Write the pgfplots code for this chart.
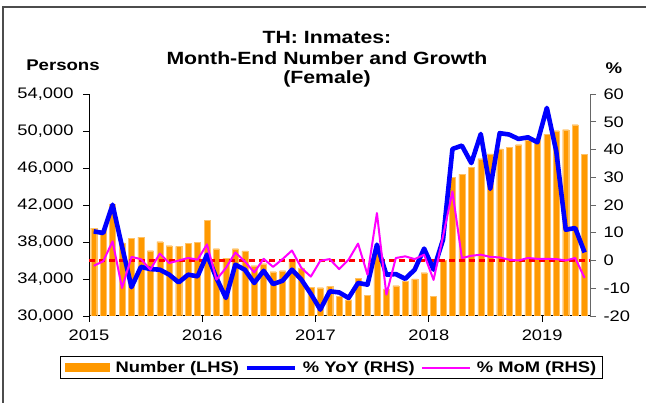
\documentclass[border=0pt]{standalone}
\usepackage{fontspec}
\setmainfont[FakeStretch=1.2]{Liberation Sans}
\usepackage{pgfplots}
\usepackage{pgfplotstable}
\pgfplotsset{compat=1.18}
\definecolor{barorange}{HTML}{FF9900}
\definecolor{yoyblue}{HTML}{0000FF}
\definecolor{mommag}{HTML}{FF00FF}

% month index (0 = Jan 2015), persons, % YoY, % MoM
\pgfplotstableread{
m num yoy mom
0 39500 10.5 -1.9
1 39250 9.9 -0.3
2 42050 20.1 6.9
3 37900 5.0 -9.9
4 38430 -9.6 1.3
5 38540 -2.3 0.5
6 37060 -3.1 -3.3
7 38030 -3.3 2.5
8 37600 -5.1 -0.9
9 37520 -7.9 0.0
10 37890 -5.1 0.9
11 37960 -5.7 0.3
12 40330 2.1 5.8
13 37280 -6.3 -6.9
14 36270 -13.5 -2.7
15 37280 -1.5 2.9
16 37030 -3.3 -0.3
17 35440 -8.1 -4.3
18 35650 -3.7 0.6
19 34790 -8.5 -2.3
20 34900 -7.3 0.5
21 36160 -3.3 3.6
22 35190 -6.9 -2.7
23 33130 -12.0 -5.8
24 33060 -17.7 -0.1
25 33200 -11.1 0.5
26 32120 -11.5 -3.1
27 31760 -13.5 0.3
28 34070 -8.1 6.1
29 32270 -8.7 -5.1
30 36880 5.7 17.1
31 32920 -5.1 -12.3
32 33280 -4.9 0.9
33 33740 -6.6 1.5
34 34000 -3.3 0.5
35 34680 4.3 2.1
36 32100 -3.3 -7.0
37 36010 7.5 8.7
38 45020 40.2 24.9
39 45350 41.4 0.9
40 46060 35.1 1.7
41 47000 45.6 2.1
42 47540 25.8 1.3
43 48080 45.9 1.1
44 48270 45.4 0.3
45 48520 43.8 0.0
46 49060 44.4 0.9
47 49240 42.6 0.6
48 49670 55.0 0.6
49 50030 39.3 0.5
50 50140 11.1 0.0
51 50680 11.7 0.9
52 47510 2.9 -6.3
}\datatable

\begin{document}
\begin{tikzpicture}
\useasboundingbox (0,0) rectangle (646pt,-403pt);
\draw[gray!60!black, line width=1.2pt] (3pt,-403pt) -- (3pt,-7pt) -- (646pt,-7pt);

\node[font=\bfseries\fontsize{17.7}{20}\selectfont] at (327pt,-38pt) {TH: Inmates:};
\node[font=\bfseries\fontsize{17.7}{20}\selectfont] at (327pt,-58pt) {Month-End Number and Growth};
\node[font=\bfseries\fontsize{17.7}{20}\selectfont] at (327pt,-79pt) {(Female)};
\node[font=\bfseries\fontsize{15.5}{17}\selectfont] at (63pt,-65pt) {Persons};
\node[font=\bfseries\fontsize{15.5}{17}\selectfont] at (614pt,-68pt) {\%};

\pgfplotsset{
  base/.style={
    at={(89pt,-316pt)}, anchor=south west,
    scale only axis, width=501pt, height=222pt,
    xmin=-0.5, xmax=52.57,
    tick align=outside, major tick length=6pt,
    tick style={line width=0.8pt},
    axis line style={-, line width=1pt},
    ticklabel style={font=\fontsize{15.25}{17}\selectfont},
    scaled y ticks=false,
    /pgf/number format/assume math mode=true,
  }
}

\begin{axis}[base,
  ymin=30000, ymax=54000,
  axis x line*=bottom, axis y line*=left,
  xtick={-0.5,11.5,23.5,35.5,47.5},
  xticklabels={2015,2016,2017,2018,2019},
  xticklabel style={yshift=-4pt},
  ytick={30000,34000,38000,42000,46000,50000,54000},
  yticklabels={{30,000},{34,000},{38,000},{42,000},{46,000},{50,000},{54,000}},
  yticklabel style={xshift=-6pt},
  tick style={black},
]
\addplot[ybar, bar width=6pt, fill=barorange, draw=barorange!60!white, line width=0.3pt]
  table[x=m, y=num] {\datatable};
\end{axis}

\begin{axis}[base,
  ymin=-20, ymax=60,
  axis x line=none, axis y line*=right,
  y axis line style={gray!80!black},
  ytick={-20,-10,...,60},
  yticklabel style={xshift=4pt},
  ytick style={gray!80!black},
  legend columns=3,
  legend style={at={(0.484,-0.232)}, anchor=center, draw=black, line width=0.8pt,
    font=\bfseries\fontsize{15.3}{17}\selectfont, inner xsep=4pt, inner ysep=3pt,
    /tikz/every odd column/.append style={column sep=4pt},
    /tikz/every even column/.append style={column sep=4pt}},
]
\addlegendimage{legend image code/.code={\fill[barorange] (0pt,-4pt) rectangle (44pt,4pt);}}
\addlegendentry{Number (LHS)}
\addplot[red, line width=2.2pt, dash pattern=on 6pt off 4pt, forget plot]
  coordinates {(-0.5,0) (52.57,0)};
\addplot[yoyblue, line width=4.6pt, line join=round,
  legend image code/.code={\draw[yoyblue, line width=4pt] (0pt,0pt) -- (48pt,0pt);}]
  table[x=m, y=yoy] {\datatable};
\addlegendentry{\% YoY (RHS)}
\addplot[mommag, line width=2pt, line join=round,
  legend image code/.code={\draw[mommag, line width=2pt] (0pt,0pt) -- (48pt,0pt);}]
  table[x=m, y=mom] {\datatable};
\addlegendentry{\% MoM (RHS)}
\end{axis}
\end{tikzpicture}
\end{document}
